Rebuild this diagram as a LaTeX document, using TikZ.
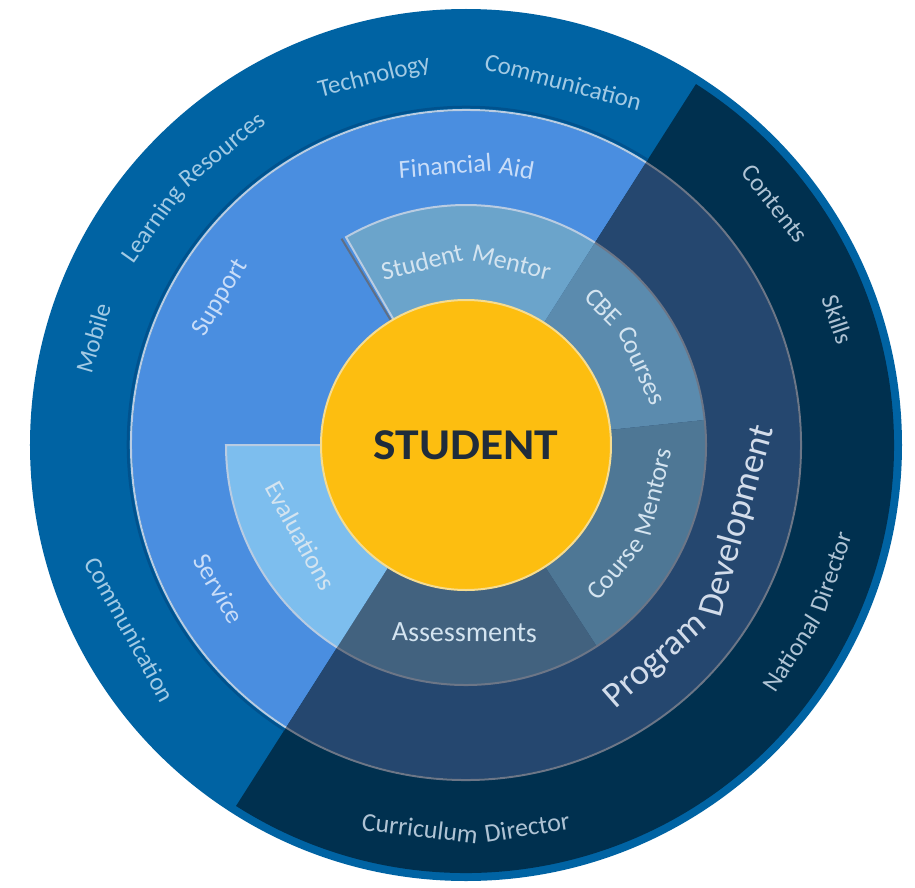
\documentclass[tikz,border=0pt]{standalone}
\usepackage{fontspec}
\setmainfont{Carlito}
\definecolor{ringA}{HTML}{0063A3}
\definecolor{ringAline}{HTML}{00528E}
\definecolor{ringAd}{HTML}{00304F}
\definecolor{ringB}{HTML}{4A8EE0}
\definecolor{ringBd}{HTML}{25476F}
\definecolor{mentor}{HTML}{6BA4CB}
\definecolor{evalc}{HTML}{7DBEEE}
\definecolor{cbe}{HTML}{5B8BAE}
\definecolor{cmentor}{HTML}{4E7795}
\definecolor{assess}{HTML}{42627F}
\definecolor{sun}{HTML}{FDBE10}
\definecolor{sunedge}{HTML}{F6DC90}
\definecolor{grayline}{HTML}{6C7687}
\definecolor{paleline}{HTML}{B9CCE2}
\definecolor{shadowline}{HTML}{5F6F86}
\definecolor{txtA}{HTML}{A2CAE4}
\definecolor{txtAd}{HTML}{AFC3D4}
\definecolor{txtB}{HTML}{C9DDF8}
\definecolor{txtBd}{HTML}{D2DCEA}
\definecolor{txtC}{HTML}{D4E4F0}
\definecolor{studtxt}{HTML}{1F2C3B}
\newlength\wordwd
\newcount\lblcount
\newcommand\annsec[5]{%
  \fill[#1] (#2:#5pt) arc[start angle=#2,end angle=#3,radius=#5pt] -- (#3:#4pt) arc[start angle=#3,end angle=#2,radius=#4pt] -- cycle;}
\newcommand\measureword[2]{%
  \pgfinterruptpicture
    \setbox0\hbox{\fontsize{#1}{#1}\selectfont #2}%
    \global\wordwd=\wd0
  \endpgfinterruptpicture}
% #1 direction (1 clockwise, tops outward; -1 counter-clockwise, tops inward)
% #2 colour, #3 size, #4 baseline radius, #5 middle angle, #6 full text, #7 words
\newcommand\arclabel[7]{%
  \measureword{#3}{#6}%
  \pgfmathsetmacro\lblhalf{(\wordwd/2 + (0.03-0.03*(#1))*#3)/(#4)*180/pi}%
  \pgfmathsetmacro\curang{#5 + (#1)*\lblhalf}%
  \global\let\gcurang\curang
  \foreach \w in {#7} {%
    \measureword{#3}{\w}%
    \pgfmathsetmacro\wang{\gcurang - (#1)*(\wordwd/2)/(#4)*180/pi}%
    \pgfmathsetmacro\nang{\gcurang - (#1)*(\wordwd + (0.29-0.06*(#1))*#3)/(#4)*180/pi}%
    \pgfmathsetmacro\wrad{#4 - ((\wordwd/2)/(#4))*(\wordwd/2)/4}%
    \global\let\gcurang\nang
    \global\advance\lblcount by 1
    \node[lbl, font=\fontsize{#3}{#3}\selectfont, text=#2, rotate={\wang - (#1)*90}]
      (w\the\lblcount) at (\wang:\wrad pt) {\w};
  }%
}
\begin{document}
\begin{tikzpicture}[lbl/.style={anchor=base, inner sep=0pt}]
\useasboundingbox (-466pt,-442pt) rectangle (449pt,445pt);
\fill[white] (-466pt,-442pt) rectangle (449pt,445pt);
% outer ring
\fill[ringA] (0,0) circle[radius=436pt];
\fill[ringAd] (0,0) -- (57.5:428pt) arc[start angle=57.5,end angle=-122.5,radius=428pt] -- cycle;
% second ring
\fill[ringB] (0,0) -- (57.5:334pt) arc[start angle=57.5,end angle=237.5,radius=334pt] -- cycle;
\fill[ringBd] (0,0) -- (57.5:334pt) arc[start angle=57.5,end angle=-122.5,radius=334pt] -- cycle;
\draw[ringAline, line width=2.5pt] (57.5:338pt) arc[start angle=57.5,end angle=237.5,radius=338pt];
\draw[paleline, line width=2pt] (57.5:335pt) arc[start angle=57.5,end angle=237.5,radius=335pt];
\draw[grayline, line width=2pt] (57.5:335pt) arc[start angle=57.5,end angle=-122.5,radius=335pt];
% third ring
\annsec{mentor}{57.5}{120}{145}{240}
\annsec{cbe}{6}{57.5}{145}{240}
\annsec{cmentor}{-57}{6}{145}{240}
\annsec{assess}{-122.5}{-57}{145}{240}
\annsec{evalc}{180}{237.5}{145}{240}
\draw[shadowline, line width=2pt] (121.1:145pt) -- (121.1:241pt);
\draw[paleline, line width=2pt] (120:145pt) -- (120:240pt) arc[start angle=120,end angle=57.5,radius=240pt];
\draw[paleline, line width=2pt] (180:145pt) -- (180:240pt) arc[start angle=180,end angle=237.5,radius=240pt];
\draw[grayline, line width=2pt] (57.5:240pt) arc[start angle=57.5,end angle=-122.5,radius=240pt];
% centre
\node[circle, fill=sun, draw=sunedge, line width=2pt, minimum size=290pt, inner sep=0pt,
      font=\fontsize{44}{44}\selectfont\bfseries, text=studtxt] (student) at (0,0) {\scalebox{1.08}[1]{STUDENT}};
% outer ring labels
\arclabel{1}{txtA}{25}{375}{104}{Technology}{Technology}
\arclabel{1}{txtA}{25}{372}{75}{Communication}{Communication}
\arclabel{1}{txtA}{25}{377}{136.6}{Learning Resources}{Learning,Resources}
\arclabel{1}{txtA}{25}{380}{164}{Mobile}{Mobile}
\arclabel{-1}{txtA}{25}{396}{209}{Communication}{Communication}
\arclabel{1}{txtAd}{25}{385}{38}{Contents}{Contents}
\arclabel{1}{txtAd}{25}{384}{18.7}{Skills}{Skills}
\arclabel{-1}{txtAd}{25}{396}{-26}{National Director}{National,Director}
\arclabel{-1}{txtAd}{26}{397}{-90}{Curriculum Director}{Curriculum,Director}
% second ring labels
\arclabel{1}{txtB}{26}{273}{90}{Financial Aid}{Financial,Aid}
\arclabel{1}{txtB}{26}{281}{149}{Support}{Support}
\arclabel{-1}{txtB}{26}{296}{210.5}{Service}{Service}
\arclabel{-1}{txtBd}{36}{300}{-28.7}{Program Development}{Program,Development}
% third ring labels
\arclabel{1}{txtC}{26}{182}{90}{Student Mentor}{Student,Mentor}
\arclabel{1}{txtC}{26}{187}{31.5}{CBE Courses}{CBE,Courses}
\arclabel{-1}{txtC}{26}{204}{-25.7}{Course Mentors}{Course,Mentors}
\arclabel{-1}{txtC}{28}{203}{-90}{Assessments}{Assessments}
\arclabel{-1}{txtC}{26}{202}{209.2}{Evaluations}{Evaluations}
\end{tikzpicture}
\end{document}
